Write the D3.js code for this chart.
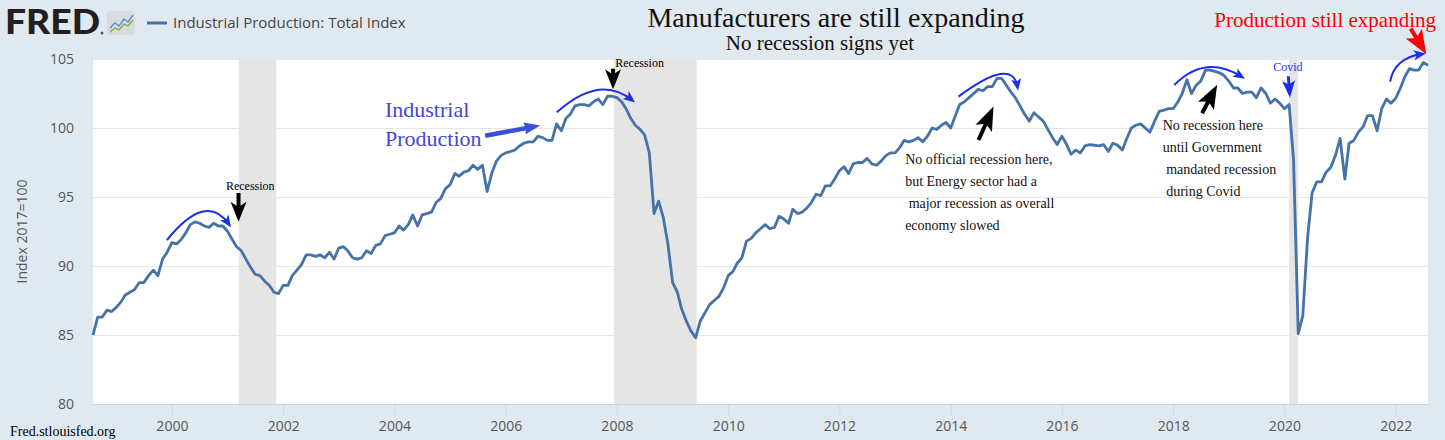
<!DOCTYPE html>
<html>
<head>
<meta charset="utf-8">
<script src="https://cdn.jsdelivr.net/npm/d3@7"></script>
<style>
  html, body { margin: 0; padding: 0; background: #e1e9f0; }
  #wrapper { width: 1445px; height: 440px; }
</style>
</head>
<body>
<div id="wrapper"></div>
<script>
// ---------- DATA -----------------------------------------------
// Industrial Production: Total Index (2017=100), monthly from Aug 1998
const firstMonth = [1998, 7]; // year, zero-based month
const indpro = [
  85.0, 86.3, 86.3, 86.8, 86.7, 87.0, 87.4, 87.9, 88.1, 88.3, 88.8, 88.8,
  89.3, 89.7, 89.3, 90.5, 91.0, 91.7, 91.6, 91.9, 92.4, 93.0, 93.2, 93.1,
  92.9, 92.8, 93.1, 92.9, 92.9, 92.5, 91.9, 91.4, 91.1, 90.5, 89.9, 89.4,
  89.3, 88.9, 88.6, 88.1, 88.0, 88.6, 88.6, 89.3, 89.7, 90.1, 90.8, 90.8,
  90.7, 90.8, 90.6, 91.0, 90.5, 91.3, 91.4, 91.1, 90.6, 90.5, 90.6, 91.1,
  90.9, 91.5, 91.6, 92.2, 92.3, 92.4, 92.9, 92.6, 93.0, 93.7, 92.9, 93.7,
  93.8, 93.9, 94.6, 94.9, 95.6, 95.9, 96.7, 96.5, 96.8, 96.9, 97.3, 97.0,
  97.3, 95.4, 96.7, 97.6, 98.0, 98.2, 98.3, 98.4, 98.7, 98.9, 99.0, 99.0,
  99.4, 99.3, 99.1, 99.1, 100.3, 99.8, 100.7, 101.0, 101.6, 101.7, 101.7, 101.6,
  101.9, 102.1, 101.7, 102.3, 102.3, 102.2, 101.9, 101.4, 100.7, 100.2, 99.9, 99.5,
  98.2, 93.8, 94.7, 93.5, 91.6, 88.8, 88.1, 86.9, 86.0, 85.3, 84.8, 86.0,
  86.6, 87.2, 87.5, 87.8, 88.4, 89.3, 89.6, 90.2, 90.6, 91.8, 92.0, 92.4,
  92.7, 93.0, 92.7, 92.8, 93.6, 93.4, 93.1, 94.1, 93.8, 93.9, 94.2, 94.6,
  95.2, 95.1, 95.8, 95.8, 96.3, 96.9, 97.2, 96.7, 97.4, 97.5, 97.5, 97.8,
  97.4, 97.3, 97.6, 98.0, 98.2, 98.2, 98.6, 99.1, 99.0, 99.1, 99.3, 99.0,
  99.4, 100.0, 99.9, 100.2, 100.4, 100.0, 100.9, 101.7, 101.9, 102.2, 102.5, 102.8,
  102.7, 103.0, 103.0, 103.6, 103.6, 103.1, 102.6, 102.2, 101.6, 101.0, 100.5, 101.1,
  100.8, 100.5, 99.9, 99.3, 98.8, 99.4, 98.8, 98.1, 98.4, 98.2, 98.7, 98.8,
  98.75, 98.7, 98.8, 98.3, 98.9, 98.75, 98.4, 99.2, 100.0, 100.2, 100.3, 100.0,
  99.7, 100.5, 101.2, 101.3, 101.4, 101.4, 101.9, 102.5, 103.5, 102.5, 103.1, 103.4,
  104.2, 104.2, 104.1, 104.0, 103.8, 103.4, 102.9, 102.9, 102.5, 102.6, 102.6, 102.2,
  102.9, 102.5, 101.8, 102.1, 101.8, 101.4, 101.7, 97.75, 85.1, 86.4, 92.0, 95.3,
  96.1, 96.1, 96.8, 97.15, 98.0, 99.25, 96.3, 98.9, 99.1, 99.7, 100.1, 100.9,
  100.9, 99.8, 101.4, 102.1, 101.8, 102.15, 102.9, 103.7, 104.3, 104.2, 104.2, 104.75,
  104.55
];

// recessions shown as grey bands (edges)
const recessions = [
  ["2001-03-16", "2001-11-16"],
  ["2007-12-12", "2009-06-08"],
  ["2020-02-01", "2020-04-01"]
];

const yTicks = [80, 85, 90, 95, 100, 105];
const xTickYears = [2000, 2002, 2004, 2006, 2008, 2010, 2012, 2014, 2016, 2018, 2020, 2022];

// hand drawn notes, positioned in chart units [decimal year, index value]
const curvedArrows = [
  [[1999.91, 91.88], [2000.54, 93.93], [2001.02, 93.04]],
  [[2006.92, 101.14], [2007.64, 102.75], [2008.27, 102.03]],
  [[2014.14, 102.27], [2014.89, 103.91], [2015.20, 102.99]],
  [[2018.02, 103.12], [2018.60, 104.40], [2019.23, 103.72]],
  [[2021.90, 103.36], [2022.08, 104.71], [2022.47, 105.36]]
];
const blackArrows = [
  [[2001.196, 95.29], [2001.196, 93.20]],
  [[2007.93, 104.30], [2007.93, 102.80]],
  [[2014.50, 99.13], [2014.77, 101.56]],
  [[2018.52, 101.07], [2018.79, 103.14]]
];
const notes = [
  { at: [2000.97, 95.51], size: 12, fill: "#000", lines: ["Recession"] },
  { at: [2007.97, 104.42], size: 12, fill: "#000", lines: ["Recession"] },
  { at: [2019.80, 104.13], size: 12, fill: "#2233ee", lines: ["Covid"] },
  { at: [2003.83, 100.80], size: 22, fill: "#4347d9", gap: 29, lines: ["Industrial", "Production"] },
  { at: [2013.18, 97.40], size: 14, fill: "#111", gap: 22,
    lines: ["No official recession here,", "but Energy sector had a", " major recession as overall", "economy slowed"] },
  { at: [2017.81, 99.86], size: 14, fill: "#111", gap: 22,
    lines: ["No recession here", "until Government", " mandated recession", " during Covid"] }
];

// ---------- DIMENSIONS ----------------------------------------
const dimensions = {
  width: 1445,
  height: 440,
  margin: { top: 59, right: 17, bottom: 36, left: 93 }
};
dimensions.boundedWidth = dimensions.width - dimensions.margin.left - dimensions.margin.right;
dimensions.boundedHeight = dimensions.height - dimensions.margin.top - dimensions.margin.bottom;

const serif = "'Liberation Serif', 'Times New Roman', serif";
const sans = "'Open Sans', 'DejaVu Sans', sans-serif";

const svg = d3.select("#wrapper")
  .append("svg")
  .attr("width", dimensions.width)
  .attr("height", dimensions.height);

svg.append("rect")
  .attr("width", dimensions.width)
  .attr("height", dimensions.height)
  .attr("fill", "#e1e9f0");

// ---------- SCALES ----------------------------------------
const dates = indpro.map((d, i) => new Date(Date.UTC(firstMonth[0], firstMonth[1] + i, 1)));

const xScale = d3.scaleUtc()
  .domain(d3.extent(dates))
  .range([0, dimensions.boundedWidth]);

const yScale = d3.scaleLinear()
  .domain([80, 105])
  .range([dimensions.boundedHeight, 0]);

// decimal year -> date, used for the notes
const yearToDate = (yr) => {
  const y = Math.floor(yr);
  const a = Date.UTC(y, 0, 1), b = Date.UTC(y + 1, 0, 1);
  return new Date(a + (yr - y) * (b - a));
};
const px = (p) => [xScale(yearToDate(p[0])), yScale(p[1])];

const bounds = svg.append("g")
  .style("transform", `translate(${dimensions.margin.left}px, ${dimensions.margin.top}px)`);

bounds.append("rect")
  .attr("width", dimensions.boundedWidth)
  .attr("height", dimensions.boundedHeight)
  .attr("fill", "#fff");

// gridlines
bounds.append("g")
  .selectAll("line")
  .data(yTicks.slice(1))
  .join("line")
  .attr("x1", 0)
  .attr("x2", dimensions.boundedWidth)
  .attr("y1", (d) => yScale(d) + 0.5)
  .attr("y2", (d) => yScale(d) + 0.5)
  .attr("stroke", "#e6e6e6")
  .attr("stroke-width", 1);

// recession bands
bounds.append("g")
  .selectAll("rect")
  .data(recessions)
  .join("rect")
  .attr("x", (d) => xScale(new Date(d[0])))
  .attr("width", (d) => xScale(new Date(d[1])) - xScale(new Date(d[0])))
  .attr("y", 0)
  .attr("height", dimensions.boundedHeight)
  .attr("fill", "#e5e5e5");

// ---------- AXES ----------------------------------------
const yAxis = bounds.append("g")
  .call(d3.axisLeft(yScale).tickValues(yTicks).tickSize(0).tickPadding(19));
yAxis.select(".domain").remove();
yAxis.selectAll("text")
  .attr("font-family", sans)
  .attr("font-size", 14)
  .attr("fill", "#555");

const xAxis = bounds.append("g")
  .attr("transform", `translate(0, ${dimensions.boundedHeight})`)
  .call(d3.axisBottom(xScale)
    .tickValues(xTickYears.map((y) => new Date(Date.UTC(y, 0, 1))))
    .tickFormat(d3.utcFormat("%Y"))
    .tickSize(11)
    .tickSizeOuter(0));
xAxis.select(".domain").attr("stroke", "#ccd6eb");
xAxis.selectAll(".tick line").attr("stroke", "#ccd6eb");
xAxis.selectAll("text")
  .attr("y", 27)
  .attr("dy", null)
  .attr("font-family", sans)
  .attr("font-size", 14)
  .attr("fill", "#555");

svg.append("text")
  .attr("transform", `translate(27, ${dimensions.margin.top + dimensions.boundedHeight / 2}) rotate(-90)`)
  .attr("text-anchor", "middle")
  .attr("font-family", sans)
  .attr("font-size", 14)
  .attr("fill", "#555")
  .text("Index 2017=100");

// ---------- LINE ----------------------------------------
const lineGenerator = d3.line()
  .x((d, i) => xScale(dates[i]))
  .y((d) => yScale(d));

bounds.append("path")
  .datum(indpro)
  .attr("d", lineGenerator)
  .attr("fill", "none")
  .attr("stroke", "#4572a7")
  .attr("stroke-width", 2.8)
  .attr("stroke-linejoin", "round");

// ---------- ANNOTATIONS ----------------------------------------
// block arrow with swept back barbs
const blockArrow = (p0, p1, stem, headW, headL, notch) => {
  const dx = p1[0] - p0[0], dy = p1[1] - p0[1];
  const len = Math.hypot(dx, dy);
  const ux = dx / len, uy = dy / len, nx = -uy, ny = ux;
  const bx = p1[0] - ux * headL, by = p1[1] - uy * headL;
  const pts = [
    [p0[0] + nx * stem / 2, p0[1] + ny * stem / 2],
    [bx + nx * stem / 2, by + ny * stem / 2],
    [bx - ux * notch + nx * headW / 2, by - uy * notch + ny * headW / 2],
    p1,
    [bx - ux * notch - nx * headW / 2, by - uy * notch - ny * headW / 2],
    [bx - nx * stem / 2, by - ny * stem / 2],
    [p0[0] - nx * stem / 2, p0[1] - ny * stem / 2]
  ];
  return "M" + pts.map((p) => p.join(",")).join("L") + "Z";
};

const notesGroup = bounds.append("g");

blackArrows.forEach((a, i) => {
  const big = i >= 2;
  notesGroup.append("path")
    .attr("d", blockArrow(px(a[0]), px(a[1]), 4, big ? 18 : 16, big ? 20 : 16, 4))
    .attr("fill", "#000");
});

// curved blue arrows drawn through three points
curvedArrows.forEach((a) => {
  const [s, m, e] = a.map(px);
  const c = [2 * m[0] - (s[0] + e[0]) / 2, 2 * m[1] - (s[1] + e[1]) / 2];
  notesGroup.append("path")
    .attr("d", `M${s}Q${c} ${e}`)
    .attr("fill", "none")
    .attr("stroke", "#1a2ee6")
    .attr("stroke-width", 2);
  const dx = e[0] - c[0], dy = e[1] - c[1], len = Math.hypot(dx, dy);
  const ux = dx / len, uy = dy / len, nx = -uy, ny = ux;
  const tip = [e[0] + ux * 4, e[1] + uy * 4];
  const base = [tip[0] - ux * 12, tip[1] - uy * 12];
  notesGroup.append("path")
    .attr("d", `M${tip}L${base[0] + nx * 5},${base[1] + ny * 5}L${base[0] + ux * 3},${base[1] + uy * 3}L${base[0] - nx * 5},${base[1] - ny * 5}Z`)
    .attr("fill", "#1a2ee6");
});

// Industrial Production pointer
notesGroup.append("path")
  .attr("d", blockArrow(px([2005.63, 99.44]), px([2006.62, 100.18]), 4.5, 12, 15, 1))
  .attr("fill", "#3c50d6");

// Covid pointer
notesGroup.append("path")
  .attr("d", blockArrow(px([2020.07, 103.75]), px([2020.10, 102.20]), 3, 13, 14, 3))
  .attr("fill", "#1a2ee6");

// red pointer at the latest value
notesGroup.append("path")
  .attr("d", blockArrow(px([2022.27, 107.2]), px([2022.55, 105.35]), 4, 19, 20, 4))
  .attr("fill", "#ff0000");

notes.forEach((n) => {
  const [x, y] = px(n.at);
  const t = notesGroup.append("text")
    .attr("font-family", serif)
    .attr("font-size", n.size)
    .attr("fill", n.fill)
    .style("white-space", "pre");
  n.lines.forEach((line, i) => {
    t.append("tspan")
      .attr("x", x)
      .attr("y", y + i * (n.gap || 0))
      .text(line);
  });
});

// ---------- HEADER ----------------------------------------
svg.append("text")
  .attr("x", 5)
  .attr("y", 34)
  .attr("font-family", "Lato, Roboto, 'DejaVu Sans', sans-serif")
  .attr("font-weight", 900)
  .attr("font-size", 35)
  .attr("textLength", 95)
  .attr("lengthAdjust", "spacingAndGlyphs")
  .attr("fill", "#231f20")
  .text("FRED");
svg.append("circle").attr("cx", 102).attr("cy", 33).attr("r", 1.5).attr("fill", "#555");

const icon = svg.append("g").attr("transform", "translate(107, 11)");
icon.append("rect").attr("width", 28).attr("height", 24).attr("rx", 3).attr("fill", "#d9dcdf");
icon.append("path")
  .attr("d", "M3,17L8,12L12,15L17,8L21,11L26,4")
  .attr("fill", "none").attr("stroke", "#5b8fc7").attr("stroke-width", 1.4);
icon.append("path")
  .attr("d", "M3,21L8,17L12,19L17,13L21,15L26,9")
  .attr("fill", "none").attr("stroke", "#7fae4a").attr("stroke-width", 1.4);

svg.append("line")
  .attr("x1", 147).attr("x2", 167)
  .attr("y1", 23).attr("y2", 23)
  .attr("stroke", "#4572a7").attr("stroke-width", 3);
svg.append("text")
  .attr("x", 173)
  .attr("y", 28)
  .attr("font-family", sans)
  .attr("font-size", 15)
  .attr("fill", "#444")
  .text("Industrial Production: Total Index");

svg.append("text")
  .attr("x", 836)
  .attr("y", 27)
  .attr("text-anchor", "middle")
  .attr("font-family", serif)
  .attr("font-size", 28)
  .attr("fill", "#111")
  .text("Manufacturers are still expanding");
svg.append("text")
  .attr("x", 820)
  .attr("y", 50)
  .attr("text-anchor", "middle")
  .attr("font-family", serif)
  .attr("font-size", 21)
  .attr("fill", "#111")
  .text("No recession signs yet");
svg.append("text")
  .attr("x", 1436)
  .attr("y", 27)
  .attr("text-anchor", "end")
  .attr("font-family", serif)
  .attr("font-size", 21)
  .attr("fill", "#ff0000")
  .text("Production still expanding");

svg.append("text")
  .attr("x", 10)
  .attr("y", 436)
  .attr("font-family", serif)
  .attr("font-size", 14)
  .attr("fill", "#000")
  .text("Fred.stlouisfed.org");
</script>
</body>
</html>
